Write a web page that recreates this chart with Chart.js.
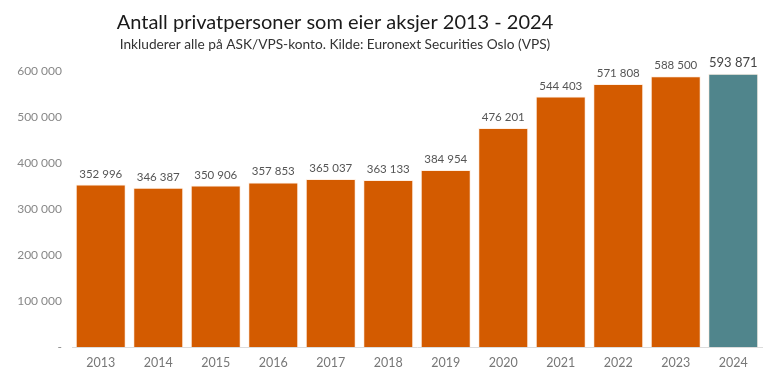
<!DOCTYPE html>
<html>
<head>
<meta charset="utf-8">
<script src="https://cdn.jsdelivr.net/npm/chart.js@4/dist/chart.umd.min.js"></script>
<style>
  html, body { margin: 0; padding: 0; background: #fff; }
  #wrap { width: 780px; height: 376px; position: relative; }
</style>
</head>
<body>
<div id="wrap"><canvas id="myChart" width="780" height="376"></canvas></div>
<script>
// data
const years = ['2013', '2014', '2015', '2016', '2017', '2018', '2019', '2020', '2021', '2022', '2023', '2024'];
const owners = [352996, 346387, 350906, 357853, 365037, 363133, 384954, 476201, 544403, 571808, 588500, 593871];
const barColors = ['#d35b00', '#d35b00', '#d35b00', '#d35b00', '#d35b00', '#d35b00',
                   '#d35b00', '#d35b00', '#d35b00', '#d35b00', '#d35b00', '#50858c'];
const titleText = 'Antall privatpersoner som eier aksjer 2013 - 2024';
const subtitleText = 'Inkluderer alle på ASK/VPS-konto. Kilde: Euronext Securities Oslo (VPS)';

const fmt = v => v === 0 ? '-' : String(v).replace(/\B(?=(\d{3})+(?!\d))/g, ' ');

// titles + value labels over the bars
const textPlugin = {
    id: 'texts',
    afterDraw(chart) {
        const c = chart.ctx;
        c.save();
        c.textAlign = 'center';
        c.textBaseline = 'alphabetic';
        c.fillStyle = '#1a1a1a';
        c.font = '20px Lato';
        c.fillText(titleText, 335, 29);
        c.fillStyle = '#333';
        c.font = '13.7px Lato';
        c.fillText(subtitleText, 335, 49);

        const meta = chart.getDatasetMeta(0);
        meta.data.forEach((bar, i) => {
            const last = i === owners.length - 1;
            c.fillStyle = last ? '#444' : '#555';
            c.font = last ? '13px Lato' : '11.5px Lato';
            c.fillText(fmt(owners[i]), bar.x, bar.y - 7);
        });
        c.restore();
    }
};

const ctx = document.getElementById('myChart').getContext('2d');

const myChart = new Chart(ctx, {
    type: 'bar',
    data: {
        labels: years,
        datasets: [{
            data: owners,
            backgroundColor: barColors,
            borderColor: 'rgba(255, 230, 210, 0.6)',
            borderWidth: 1,
            barPercentage: 0.87,
            categoryPercentage: 1
        }]
    },
    options: {
        responsive: false,
        animation: false,
        layout: { padding: { top: 71, right: 18, left: 0, bottom: 0 } },
        plugins: {
            legend: { display: false },
            tooltip: { enabled: false }
        },
        scales: {
            x: {
                grid: { display: false, drawTicks: false },
                border: { display: true, color: '#dcdcdc', width: 1 },
                ticks: { color: '#777', font: { family: 'Lato', size: 12.5 }, padding: 8 },
                afterFit: s => { s.height = 29; }
            },
            y: {
                min: 0,
                max: 600000,
                grid: { display: false, drawTicks: false },
                border: { display: false },
                ticks: {
                    stepSize: 100000,
                    color: '#888',
                    padding: 10,
                    font: { family: 'Lato', size: 12 },
                    callback: v => fmt(v)
                },
                afterFit: s => { s.width = 72; }
            }
        }
    },
    plugins: [textPlugin]
});
</script>
</body>
</html>
